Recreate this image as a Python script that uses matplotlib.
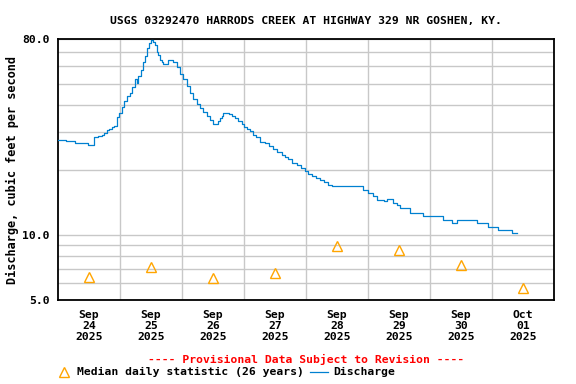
import matplotlib
matplotlib.use("Agg")
import matplotlib.pyplot as plt
from matplotlib.lines import Line2D

# discharge, hours since Sep 24 2025 00:00 -> cubic feet per second
hours = [0, 3.1, 6.6, 11.7, 14.1, 15.6, 16.9, 17.8, 18.9, 19.7, 20.8, 21.7,
         22.7, 23.6, 24.7, 25.5, 26.6, 27.9, 28.8, 29.8, 30.4, 31.1, 32.1,
         33.0, 33.7, 34.3, 35.2, 36.0, 36.8, 37.5, 38.3, 38.8, 39.5, 40.1,
         40.8, 42.7, 44.4, 45.9, 47.2, 48.5, 49.8, 51.1, 52.4, 53.7, 55.0,
         56.2, 57.6, 58.8, 59.9, 62.1, 62.7, 63.4, 64.0, 66.2, 67.4, 68.5,
         69.7, 71.1, 72.0, 73.0, 74.3, 75.6, 76.6, 78.2, 80.1, 81.7, 83.3,
         84.8, 86.6, 87.9, 89.1, 90.6, 92.4, 94.1, 95.6, 96.8, 98.2, 99.9,
         101.4, 103.0, 104.6, 105.9, 117.5, 118.2, 120.1, 122.0, 123.4,
         126.2, 127.2, 129.8, 131.1, 132.4, 136.3, 141.2, 149.2, 152.4,
         154.3, 162.2, 166.5, 170.3, 175.6, 177.5]
flow = [27.4, 27.2, 26.6, 25.9, 28.2, 28.6, 29.0, 29.6, 30.5, 31.0, 31.4, 32.0,
        35.1, 36.5, 38.9, 41.5, 44.0, 45.1, 48.0, 52.3, 50.5, 54.1, 58.0,
        62.6, 67.0, 72.6, 76.5, 79.4, 78.0, 75.2, 70.0, 67.6, 64.5, 62.6,
        61.7, 64.4, 63.0, 59.6, 55.5, 52.3, 48.5, 45.1, 42.5, 40.4, 38.5,
        37.0, 35.3, 33.8, 32.7, 33.5, 34.7, 35.6, 36.5, 36.0, 35.3, 34.6,
        33.5, 32.4, 31.4, 30.9, 30.3, 29.0, 28.2, 26.9, 26.5, 25.8, 25.0,
        24.2, 23.3, 22.8, 22.4, 21.6, 21.1, 20.3, 19.8, 19.2, 18.8, 18.3,
        18.0, 17.5, 17.1, 16.8, 16.8, 16.2, 15.6, 15.2, 14.5,
        14.3, 14.6, 14.0, 13.7, 13.3, 12.7, 12.2, 11.7, 11.4,
        11.7, 11.4, 10.9, 10.6, 10.2, 10.2]

# median daily statistic, plotted at noon of each day
median_hours = [12, 36, 60, 84, 108, 132, 156, 180]
median_flow = [6.4, 7.09, 6.35, 6.67, 8.88, 8.51, 7.26, 5.68]

day_labels = ["Sep\n24\n2025", "Sep\n25\n2025", "Sep\n26\n2025", "Sep\n27\n2025",
              "Sep\n28\n2025", "Sep\n29\n2025", "Sep\n30\n2025", "Oct\n01\n2025"]

plt.rcParams['font.family'] = 'DejaVu Sans Mono'
plt.rcParams['font.weight'] = 'bold'
plt.rcParams['axes.labelweight'] = 'bold'
plt.rcParams['axes.titleweight'] = 'bold'
plt.rcParams['font.size'] = 8.2

fig = plt.figure(figsize=(5.76, 3.84), dpi=100)
ax = fig.add_axes([0.1007, 0.218, 0.8611, 0.6797])

ax.plot(hours, flow, color='#0080d0', lw=0.9, drawstyle='steps-post', zorder=3)
ax.plot(median_hours, median_flow, ls='none', marker='^', ms=7, mfc='none',
        mec='#ffa500', mew=1.0, zorder=4)

ax.set_yscale('log')
ax.set_ylim(5, 80)
ax.set_xlim(0, 192)
ax.set_yticks([5, 10, 80])
ax.set_yticklabels(['5.0', '10.0', '80.0'])
ax.set_yticks([6, 7, 8, 9, 20, 30, 40, 50, 60, 70], minor=True)
ax.yaxis.set_minor_formatter(plt.NullFormatter())
ax.set_xticks(median_hours)
ax.set_xticklabels(day_labels, linespacing=1.1)
ax.set_xticks(range(24, 192, 24), minor=True)

ax.grid(True, which='both', color='#c8c8c8', lw=1.0)
ax.grid(False, which='major', axis='x')
ax.tick_params(which='both', length=0)
ax.tick_params(axis='x', pad=7)
ax.tick_params(axis='y', pad=6)
for s in ax.spines.values():
    s.set_linewidth(1.3)

ax.set_ylabel('Discharge, cubic feet per second', fontsize=8.6, labelpad=2)
ax.set_title('USGS 03292470 HARRODS CREEK AT HIGHWAY 329 NR GOSHEN, KY.',
             fontsize=8.2, pad=11)

fig.text(0.531, 0.065, '---- Provisional Data Subject to Revision ----',
         color='red', ha='center', va='center', fontweight='bold')

handles = [Line2D([], [], ls='none', marker='^', ms=7, mfc='none', mec='#ffa500', mew=1.0),
           Line2D([], [], color='#0080d0', lw=0.9)]
fig.legend(handles, ['Median daily statistic (26 years)', 'Discharge'],
           loc='center left', bbox_to_anchor=(0.085, 0.03), ncol=2, frameon=False,
           handlelength=1.6, handletextpad=0.4, columnspacing=0.5, borderpad=0,
           prop={'weight': 'bold', 'size': 8.2})

fig.savefig('out.png', dpi=100)
